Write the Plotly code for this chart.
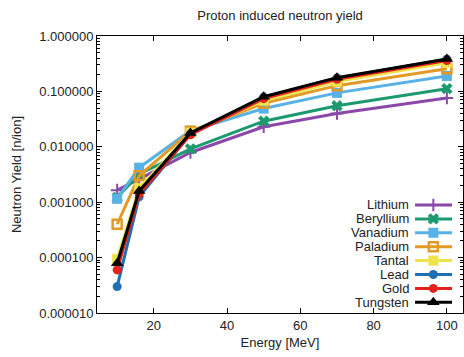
import plotly.graph_objects as go

# ---- data ----
energy = [10, 16, 30, 50, 70, 100]
names = ["Lithium", "Beryllium", "Vanadium", "Paladium", "Tantal", "Lead", "Gold", "Tungsten"]
lithium   = [0.00165, 0.0026, 0.0079, 0.023, 0.040, 0.076]
beryllium = [0.00122, 0.0032, 0.0092, 0.029, 0.055, 0.112]
vanadium  = [0.00115, 0.0042, 0.0195, 0.049, 0.094, 0.19]
paladium  = [0.0004, 0.0030, 0.019, 0.061, 0.127, 0.256]
tantal    = [0.000095, 0.0018, 0.018, 0.068, 0.150, 0.33]
lead      = [0.00003, 0.00125, 0.017, 0.079, 0.175, 0.38]
gold      = [0.00006, 0.0014, 0.0165, 0.074, 0.165, 0.36]
tungsten  = [0.000079, 0.0016, 0.0178, 0.080, 0.177, 0.385]
series = [lithium, beryllium, vanadium, paladium, tantal, lead, gold, tungsten]

y_tickvals = [1e-5, 1e-4, 1e-3, 1e-2, 1e-1, 1]
y_ticktext = ["0.000010", "0.000100", "0.001000", "0.010000", "0.100000", "1.000000"]
x_tickvals = [20, 40, 60, 80, 100]

# ---- styles ----
colors = ["#8a48a8", "#1c9a6e", "#58b2e6", "#e39a24", "#ece44a", "#1f6fb2", "#e2231c", "#000000"]
symbols = ["cross-thin-open", "x", "square", "square-open", "square", "circle", "circle", "triangle-up"]
msizes = [9, 10, 10, 9, 10, 9, 9, 11]
mwidths = [2, 0, 0, 2.5, 0, 0, 0, 0]
FONT = "Liberation Sans, Arial, sans-serif"

fig = go.Figure()
for name, ys, c, s, ms, mw in zip(names, series, colors, symbols, msizes, mwidths):
    fig.add_trace(go.Scatter(
        x=energy, y=ys, name=name, mode="lines+markers",
        line=dict(color=c, width=3),
        marker=dict(symbol=s, size=ms, color=c, line=dict(color=c, width=mw)),
        showlegend=False, xaxis="x", yaxis="y"))

# ---- custom legend (gnuplot style: text right-aligned, sample to the right) ----
row0 = 0.390
drow = 0.0502
for i, (name, c, s, ms, mw) in enumerate(zip(names, colors, symbols, msizes, mwidths)):
    yy = row0 - i * drow
    fig.add_trace(go.Scatter(
        x=[0.869, 0.919, 0.970], y=[yy, yy, yy], mode="lines+markers",
        line=dict(color=c, width=3),
        marker=dict(symbol=s, size=ms, color=c, line=dict(color=c, width=mw),
                    opacity=[0, 1, 0]),
        showlegend=False, xaxis="x2", yaxis="y2", hoverinfo="skip"))
    fig.add_annotation(x=0.858, y=yy, xref="x2", yref="y2", text=name,
                       showarrow=False, xanchor="right", yanchor="middle",
                       font=dict(family=FONT, size=13, color="#222"))

fig.update_layout(
    width=464, height=357,
    margin=dict(l=97, r=1, t=36, b=44),
    paper_bgcolor="white", plot_bgcolor="white",
    font=dict(family=FONT, size=13, color="#222"),
    title=dict(text="Proton induced neutron yield", x=0.6035, xanchor="center",
               y=0.958, yanchor="middle", font=dict(family=FONT, size=13, color="#222")),
    xaxis=dict(range=[4.5, 104.4], tickvals=x_tickvals, ticks="inside", ticklen=5,
               tickcolor="black", showline=True, linecolor="black", linewidth=1,
               mirror="ticks", showgrid=False, zeroline=False,
               title=dict(text="Energy [MeV]", standoff=6, font=dict(size=13))),
    yaxis=dict(type="log", range=[-5, 0], tickvals=y_tickvals, ticktext=y_ticktext,
               ticks="inside", ticklen=5, tickcolor="black", showline=True,
               linecolor="black", linewidth=1, mirror="ticks", showgrid=False,
               zeroline=False,
               minor=dict(ticks="inside", ticklen=3, dtick="D1", tickcolor="black", showgrid=False),
               title=dict(text="Neutron Yield [n/ion]", standoff=14, font=dict(size=13))),
    xaxis2=dict(overlaying="x", range=[0, 1], visible=False, fixedrange=True),
    yaxis2=dict(overlaying="y", range=[0, 1], visible=False, fixedrange=True),
)

fig.write_html("out.html")
